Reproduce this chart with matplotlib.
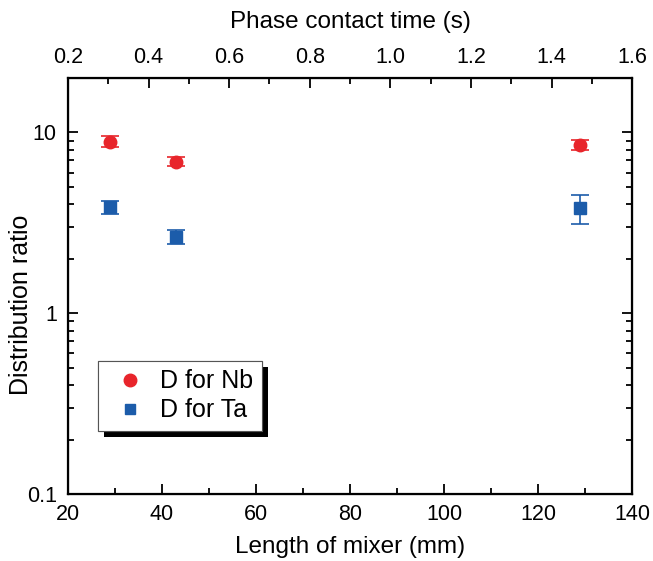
import numpy as np
import matplotlib
matplotlib.use('Agg')
import matplotlib.pyplot as plt
import matplotlib.patheffects as pe
from matplotlib.lines import Line2D
from matplotlib.ticker import MultipleLocator, LogLocator, NullFormatter, FixedFormatter, FixedLocator

plt.rcParams['font.family'] = ['Liberation Sans', 'DejaVu Sans']

# Datos
largo = [29, 43, 129]          # mm
d_nb = [8.9, 6.9, 8.5]
err_nb = [0.6, 0.4, 0.55]
d_ta = [3.87, 2.64, 3.8]
err_ta = [0.32, 0.23, 0.7]

rojo = '#E8252B'
azul = '#1C5CAA'

fig = plt.figure(figsize=(6.53, 5.61), dpi=100)
ax = fig.add_axes([0.104, 0.1194, 0.864, 0.7416])

ax.errorbar(largo, d_nb, yerr=err_nb, fmt='o', color=rojo, ms=9,
            capsize=6.3, elinewidth=1.2, capthick=1.2)
ax.errorbar(largo, d_ta, yerr=err_ta, fmt='s', color=azul, ms=8.5,
            capsize=6.3, elinewidth=1.2, capthick=1.2)

ax.set_yscale('log')
ax.set_xlim(20, 140)
ax.set_ylim(0.1, 20)
ax.xaxis.set_major_locator(MultipleLocator(20))
ax.xaxis.set_minor_locator(MultipleLocator(10))
ax.yaxis.set_major_locator(FixedLocator([0.1, 1, 10]))
ax.yaxis.set_major_formatter(FixedFormatter(['0.1', '1', '10']))
ax.yaxis.set_minor_locator(LogLocator(base=10, subs=np.arange(2, 10)))
ax.yaxis.set_minor_formatter(NullFormatter())

ax.tick_params(which='both', direction='in', right=True, labelsize=15.5, width=1.3)
ax.tick_params(which='major', length=7)
ax.tick_params(which='minor', length=4)
ax.tick_params(axis='x', pad=7)
ax.tick_params(axis='y', pad=8)
for s in ax.spines.values():
    s.set_linewidth(1.6)

ax.set_xlabel('Length of mixer (mm)', fontsize=17.5, labelpad=8)
ax.set_ylabel('Distribution ratio', fontsize=18)
ax.yaxis.set_label_coords(-0.061, 0.455)

# Eje superior: tiempo de contacto
ax2 = ax.twiny()
ax2.set_xlim(0.2, 1.6)
ax2.xaxis.set_major_locator(MultipleLocator(0.2))
ax2.xaxis.set_minor_locator(MultipleLocator(0.1))
ax2.xaxis.set_major_formatter(plt.FormatStrFormatter('%.1f'))
ax2.tick_params(which='both', direction='in', labelsize=15.5, width=1.3, pad=7)
ax2.tick_params(which='major', length=7)
ax2.tick_params(which='minor', length=4)
ax2.set_xlabel('Phase contact time (s)', fontsize=17.5, labelpad=14)

handles = [Line2D([], [], ls='none', marker='o', color=rojo, ms=9),
           Line2D([], [], ls='none', marker='s', color=azul, ms=7.5)]
leg = ax.legend(handles, ['D for Nb', 'D for Ta'], loc='lower left',
                bbox_to_anchor=(0.053, 0.151), borderaxespad=0, fontsize=18,
                fancybox=False, edgecolor='#555555', framealpha=1,
                handletextpad=0.25, borderpad=0.35, labelspacing=0.2,
                handlelength=1.9)
leg.get_frame().set_linewidth(0.8)
leg.get_frame().set_path_effects([
    pe.withSimplePatchShadow(offset=(4.5, -4.5), shadow_rgbFace='k', alpha=1),
    pe.Normal()])

fig.savefig('out.png', dpi=100)
